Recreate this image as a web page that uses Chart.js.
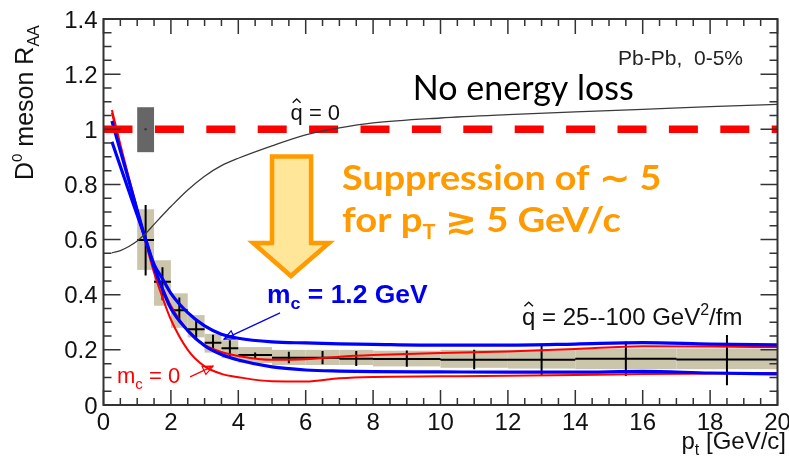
<!DOCTYPE html>
<html>
<head>
<meta charset="utf-8">
<script src="https://cdn.jsdelivr.net/npm/chart.js@4.4.1/dist/chart.umd.min.js"></script>
<style>
  html, body { margin: 0; padding: 0; background: #fff; }
</style>
</head>
<body>
<canvas id="raa" width="789" height="464"></canvas>
<script>
// model curves, sampled in pT (GeV/c)
const curveX     = [0.25, 0.5, 0.75, 1, 1.25, 1.5, 1.75, 2, 2.5, 3, 3.5, 4, 5, 6, 7, 8, 10, 12, 14, 16, 18, 20];
const qhatZero   = [0.552, 0.56, 0.575, 0.595, 0.622, 0.655, 0.688, 0.72, 0.78, 0.83, 0.868, 0.895, 0.94, 0.98, 1.005, 1.023, 1.041, 1.053, 1.063, 1.072, 1.082, 1.09];
const blueUpper  = [1.03, 0.922, 0.815, 0.707, 0.60, 0.51, 0.458, 0.405, 0.335, 0.287, 0.257, 0.242, 0.229, 0.225, 0.222, 0.220, 0.217, 0.217, 0.221, 0.226, 0.221, 0.218];
const blueLower  = [0.955, 0.866, 0.777, 0.689, 0.60, 0.50, 0.42, 0.35, 0.27, 0.215, 0.183, 0.163, 0.138, 0.127, 0.123, 0.121, 0.120, 0.119, 0.119, 0.122, 0.116, 0.113];
const redUpper   = [1.07, 0.945, 0.825, 0.71, 0.60, 0.50, 0.425, 0.36, 0.27, 0.218, 0.192, 0.178, 0.164, 0.166, 0.175, 0.181, 0.189, 0.194, 0.203, 0.213, 0.212, 0.210];
const redLower   = [1.06, 0.935, 0.815, 0.70, 0.59, 0.48, 0.39, 0.31, 0.20, 0.14, 0.113, 0.101, 0.086, 0.085, 0.097, 0.102, 0.104, 0.106, 0.109, 0.112, 0.114, 0.116];

// D0 data points
const ptCenter = [1.25, 1.75, 2.25, 2.75, 3.25, 3.75, 4.5, 5.5, 6.5, 7.5, 9, 11, 13, 15.5, 18.5];
const ptLow    = [1, 1.5, 2, 2.5, 3, 3.5, 4, 5, 6, 7, 8, 10, 12, 14, 17];
const ptHigh   = [1.5, 2, 2.5, 3, 3.5, 4, 5, 6, 7, 8, 10, 12, 14, 17, 20];
const raa      = [0.598, 0.447, 0.344, 0.275, 0.226, 0.206, 0.181, 0.171, 0.171, 0.168, 0.167, 0.164, 0.164, 0.168, 0.165];
const statLow  = [0.47, 0.38, 0.30, 0.24, 0.20, 0.175, 0.17, 0.151, 0.148, 0.141, 0.139, 0.13, 0.109, 0.105, 0.072];
const statHigh = [0.725, 0.50, 0.39, 0.305, 0.255, 0.235, 0.19, 0.193, 0.196, 0.196, 0.198, 0.2, 0.217, 0.23, 0.254];
const systLow  = [0.49, 0.36, 0.28, 0.245, 0.19, 0.17, 0.152, 0.145, 0.145, 0.145, 0.14, 0.135, 0.132, 0.13, 0.13];
const systHigh = [0.71, 0.525, 0.405, 0.326, 0.258, 0.235, 0.21, 0.2, 0.2, 0.2, 0.197, 0.2, 0.2, 0.205, 0.205];

// normalisation uncertainty box at R_AA = 1
const normPt  = [1.0, 1.5];
const normRaa = [0.917, 1.08];

const noLossX = [0, 20];
const noLossY = [1, 1];

const xTickLabels = ['0', '2', '4', '6', '8', '10', '12', '14', '16', '18', '20'];
const yTickLabels = ['0', '0.2', '0.4', '0.6', '0.8', '1', '1.2', '1.4'];

const HELV = '"Liberation Sans", Arial, sans-serif';
const SANS = 'Lato, "DejaVu Sans", sans-serif';
const ORANGE = '#ff9a00';

const pts = (xs, ys) => xs.map((x, i) => ({ x: x, y: ys[i] }));

function rich(c, x, y, parts, color) {
  let cx = x;
  for (const p of parts) {
    c.font = p.f;
    c.fillStyle = p.col || color;
    c.fillText(p.t, cx, y + (p.dy || 0));
    cx += c.measureText(p.t).width;
  }
  return cx - x;
}

function richWidth(c, parts) {
  let w = 0;
  for (const p of parts) { c.font = p.f; w += c.measureText(p.t).width; }
  return w;
}

// same as rich, stretched horizontally to a given width
function richFit(c, x, y, parts, color, width) {
  const w = richWidth(c, parts);
  c.save();
  c.translate(x, y);
  c.scale(width / w, 1);
  rich(c, 0, 0, parts, color);
  c.restore();
}

// q with a hat on top, returns advance
function qhat(c, x, y, size, color) {
  c.font = size + 'px ' + HELV;
  c.fillStyle = color;
  c.fillText('q', x, y);
  const w = c.measureText('q').width;
  c.strokeStyle = color;
  c.lineWidth = 1.4;
  c.beginPath();
  c.moveTo(x + w * 0.18, y - size * 0.78);
  c.lineTo(x + w * 0.5, y - size * 0.95);
  c.lineTo(x + w * 0.82, y - size * 0.78);
  c.stroke();
  return w;
}

function openHead(c, x0, y0, x1, y1, len, half) {
  const ang = Math.atan2(y1 - y0, x1 - x0);
  const bx = x1 - len * Math.cos(ang), by = y1 - len * Math.sin(ang);
  c.beginPath();
  c.moveTo(x1, y1);
  c.lineTo(bx + half * Math.sin(ang), by - half * Math.cos(ang));
  c.lineTo(bx - half * Math.sin(ang), by + half * Math.cos(ang));
  c.closePath();
  c.stroke();
}

const decor = {
  id: 'decor',
  beforeDatasetsDraw(chart) {
    const c = chart.ctx, sx = chart.scales.x, sy = chart.scales.y;
    c.save();
    // systematic boxes
    c.fillStyle = '#cbc5ac';
    ptCenter.forEach((_, i) => {
      const x0 = sx.getPixelForValue(ptLow[i]), x1 = sx.getPixelForValue(ptHigh[i]);
      const y0 = sy.getPixelForValue(systHigh[i]), y1 = sy.getPixelForValue(systLow[i]);
      c.fillRect(x0, y0, x1 - x0, y1 - y0);
    });
    // stat error crosses
    c.strokeStyle = '#000';
    c.lineWidth = 2;
    c.beginPath();
    ptCenter.forEach((x, i) => {
      const px = sx.getPixelForValue(x), py = sy.getPixelForValue(raa[i]);
      c.moveTo(sx.getPixelForValue(ptLow[i]), py);
      c.lineTo(sx.getPixelForValue(ptHigh[i]), py);
      c.moveTo(px, sy.getPixelForValue(statLow[i]));
      c.lineTo(px, sy.getPixelForValue(statHigh[i]));
    });
    c.stroke();
    c.restore();
  },
  afterDatasetsDraw(chart) {
    const c = chart.ctx, sx = chart.scales.x, sy = chart.scales.y, a = chart.chartArea;
    const X = v => sx.getPixelForValue(v), Y = v => sy.getPixelForValue(v);
    c.save();

    // normalisation box
    c.fillStyle = '#666666';
    c.fillRect(X(normPt[0]), Y(normRaa[1]), X(normPt[1]) - X(normPt[0]), Y(normRaa[0]) - Y(normRaa[1]));
    c.fillStyle = '#3a3a3a';
    c.beginPath();
    c.arc(X((normPt[0] + normPt[1]) / 2), Y(1), 1.3, 0, Math.PI * 2);
    c.fill();

    // frame and inward ticks
    c.strokeStyle = '#333';
    c.lineWidth = 2;
    c.strokeRect(a.left, a.top, a.right - a.left, a.bottom - a.top);
    c.lineWidth = 1.5;
    c.beginPath();
    for (let k = 0; k <= 40; k++) {
      const px = X(k * 0.5), len = k % 4 === 0 ? 15 : 7;
      c.moveTo(px, a.bottom); c.lineTo(px, a.bottom - len);
      c.moveTo(px, a.top); c.lineTo(px, a.top + len);
    }
    for (let k = 0; k <= 28; k++) {
      const py = Y(k * 0.05), len = k % 4 === 0 ? 17 : 8;
      c.moveTo(a.left, py); c.lineTo(a.left + len, py);
      c.moveTo(a.right, py); c.lineTo(a.right - len, py);
    }
    c.stroke();

    // tick labels
    c.fillStyle = '#111';
    c.font = '24px ' + HELV;
    c.textAlign = 'center';
    xTickLabels.forEach((t, i) => c.fillText(t, X(i * 2), a.bottom + 25));
    c.textAlign = 'right';
    yTickLabels.forEach((t, i) => c.fillText(t, a.left - 6, Y(i * 0.2) + 8.5));
    c.textAlign = 'left';

    // axis titles
    const xt = [
      { t: 'p', f: '24px ' + HELV },
      { t: 't', f: '16px ' + HELV, dy: 6 },
      { t: ' [GeV/c]', f: '24px ' + HELV }
    ];
    rich(c, 786 - richWidth(c, xt), 449, xt, '#111');
    c.save();
    c.translate(33, 180);
    c.rotate(-Math.PI / 2);
    rich(c, 0, 0, [
      { t: 'D', f: '25px ' + HELV },
      { t: '0', f: '15px ' + HELV, dy: -11 },
      { t: ' meson R', f: '25px ' + HELV },
      { t: 'AA', f: '16px ' + HELV, dy: 6 }
    ], '#111');
    c.restore();

    // text annotations
    c.font = '21px ' + HELV;
    c.fillStyle = '#222';
    c.fillText('Pb-Pb,  0-5%', X(15.27), Y(1.233));

    c.font = '34px ' + SANS;
    c.fillStyle = '#000';
    c.fillText('No energy loss', X(9.18), Y(1.106));

    let qx = X(5.55), qy = Y(1.034);
    qx += qhat(c, qx, qy, 22, '#111');
    c.font = '22px ' + HELV;
    c.fillText(' = 0', qx, qy);

    qx = X(12.42); qy = Y(0.29);
    qx += qhat(c, qx, qy, 24, '#111');
    rich(c, qx, qy, [
      { t: ' = 25--100 GeV', f: '24px ' + HELV },
      { t: '2', f: '16px ' + HELV, dy: -10 },
      { t: '/fm', f: '24px ' + HELV }
    ], '#111');

    // suppression arrow
    c.beginPath();
    c.moveTo(X(5.0), Y(0.901));
    c.lineTo(X(6.16), Y(0.901));
    c.lineTo(X(6.16), Y(0.588));
    c.lineTo(X(6.69), Y(0.588));
    c.lineTo(X(5.56), Y(0.468));
    c.lineTo(X(4.44), Y(0.588));
    c.lineTo(X(5.0), Y(0.588));
    c.closePath();
    c.fillStyle = '#ffe699';
    c.fill();
    c.strokeStyle = ORANGE;
    c.lineWidth = 4.5;
    c.lineJoin = 'miter';
    c.stroke();

    const bold = s => 'bold ' + s + 'px ' + SANS;
    richFit(c, X(7.08), Y(0.78), [{ t: 'Suppression of \u223C 5', f: bold(35) }], ORANGE, X(16.55) - X(7.08));
    richFit(c, X(7.08), Y(0.627), [
      { t: 'for p', f: bold(35) },
      { t: 'T', f: bold(20), dy: 7 },
      { t: ' \u2273 5 GeV/c', f: bold(35) }
    ], ORANGE, X(15.35) - X(7.08));

    // model labels with pointers
    richFit(c, X(4.85), Y(0.37), [
      { t: 'm', f: 'bold 25px ' + HELV },
      { t: 'c', f: 'bold 17px ' + HELV, dy: 6 },
      { t: ' = 1.2 GeV', f: 'bold 25px ' + HELV }
    ], '#0000ee', X(9.62) - X(4.85));
    c.strokeStyle = '#0000ee';
    c.lineWidth = 1.2;
    c.beginPath();
    c.moveTo(X(5.24), Y(0.334));
    c.lineTo(X(3.575), Y(0.239));
    c.stroke();
    openHead(c, X(5.24), Y(0.334), X(3.575), Y(0.239), 10, 4.5);

    rich(c, X(0.40), Y(0.08), [
      { t: 'm', f: '22px ' + HELV },
      { t: 'c', f: '15px ' + HELV, dy: 6 },
      { t: ' = 0', f: '22px ' + HELV }
    ], '#ff0000');
    c.strokeStyle = '#ff0000';
    c.beginPath();
    c.moveTo(X(2.57), Y(0.102));
    c.lineTo(X(3.25), Y(0.141));
    c.stroke();
    openHead(c, X(2.57), Y(0.102), X(3.25), Y(0.141), 10, 4.5);

    c.restore();
  }
};

const curve = (ys, color, width) => ({
  data: pts(curveX, ys),
  borderColor: color,
  borderWidth: width,
  cubicInterpolationMode: 'monotone',
  pointRadius: 0,
  fill: false
});

const ctx = document.getElementById('raa');
const chart = new Chart(ctx, {
  type: 'line',
  data: {
    datasets: [
      curve(qhatZero, '#3a3a3a', 1.3),
      {
        data: pts(noLossX, noLossY),
        borderColor: '#ff0000',
        borderWidth: 7.5,
        borderDash: [29, 22.4],
        borderCapStyle: 'butt',
        pointRadius: 0,
        fill: false
      },
      curve(blueUpper, '#0000ff', 3.2),
      curve(blueLower, '#0000ff', 3.2),
      curve(redUpper, '#ff0000', 2),
      curve(redLower, '#ff0000', 2)
    ]
  },
  options: {
    responsive: false,
    animation: false,
    devicePixelRatio: 1,
    layout: { padding: { left: 103.5, right: 11.5, top: 19, bottom: 59 } },
    plugins: { legend: { display: false }, tooltip: { enabled: false } },
    scales: {
      x: { type: 'linear', min: 0, max: 20, display: false },
      y: { type: 'linear', min: 0, max: 1.4, display: false }
    }
  },
  plugins: [decor]
});
</script>
</body>
</html>
